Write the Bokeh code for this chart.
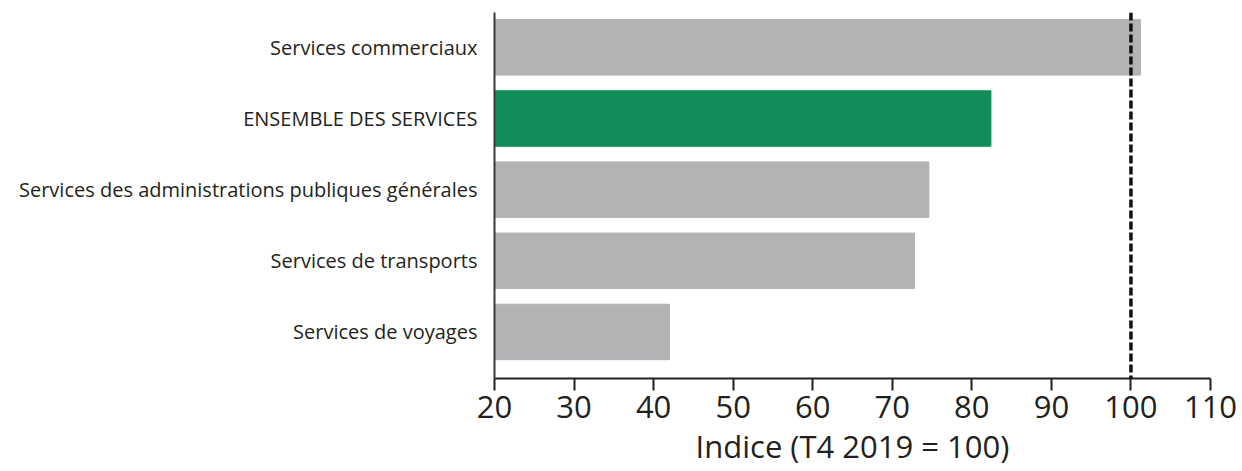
from bokeh.plotting import figure
from bokeh.models import Span, FixedTicker, Range1d, ColumnDataSource
from bokeh.embed import file_html
from bokeh.resources import INLINE

categories = ["Services commerciaux", "ENSEMBLE DES SERVICES",
              "Services des administrations publiques générales",
              "Services de transports", "Services de voyages"]
values = [101.2, 82.4, 74.6, 72.8, 42.0]
colors = ["#b2b3b5", "#128d5a", "#b2b3b5", "#b2b3b5", "#b2b3b5"]
x_ticks = [20, 30, 40, 50, 60, 70, 80, 90, 100, 110]
ref_value = 100

n = len(categories)
ypos = [n - 1 - i for i in range(n)]
src = ColumnDataSource(dict(y=ypos, right=values, color=colors))

p = figure(width=1240, height=470, output_backend="svg", toolbar_location=None,
           x_range=Range1d(20, 110), y_range=Range1d(-0.654, 4.49),
           min_border_left=494, min_border_right=30, min_border_top=12, min_border_bottom=92)
p.hbar(y="y", left=20, right="right", height=0.78, color="color", source=src)
p.add_layout(Span(location=ref_value, dimension="height", line_color="#111111",
                  line_width=3.5, line_dash="8 3"))

p.outline_line_color = None
p.grid.grid_line_color = None
p.background_fill_color = "white"
p.border_fill_color = "white"

xa = p.xaxis[0]
xa.ticker = FixedTicker(ticks=x_ticks)
xa.axis_line_width = 2
xa.axis_line_color = "#231f20"
xa.major_tick_line_width = 2
xa.major_tick_line_color = "#231f20"
xa.major_tick_out = 12
xa.major_tick_in = 0
xa.minor_tick_line_color = None
xa.major_label_text_font = "Open Sans"
xa.major_label_text_font_size = "31px"
xa.major_label_text_color = "#231f20"
xa.major_label_standoff = 5
xa.axis_label = "Indice (T4 2019 = 100)"
xa.axis_label_text_font = "Open Sans"
xa.axis_label_text_font_size = "31px"
xa.axis_label_text_font_style = "normal"
xa.axis_label_text_color = "#231f20"
xa.axis_label_standoff = 4

ya = p.yaxis[0]
ya.ticker = FixedTicker(ticks=ypos)
ya.major_label_overrides = {y: c for y, c in zip(ypos, categories)}
ya.axis_line_width = 2
ya.axis_line_color = "#3a3a3a"
ya.major_tick_line_color = None
ya.minor_tick_line_color = None
ya.major_label_text_font = "Open Sans"
ya.major_label_text_font_size = "20px"
ya.major_label_text_color = "#231f20"
ya.major_label_standoff = 11

open("out.html", "w").write(file_html(p, INLINE))
